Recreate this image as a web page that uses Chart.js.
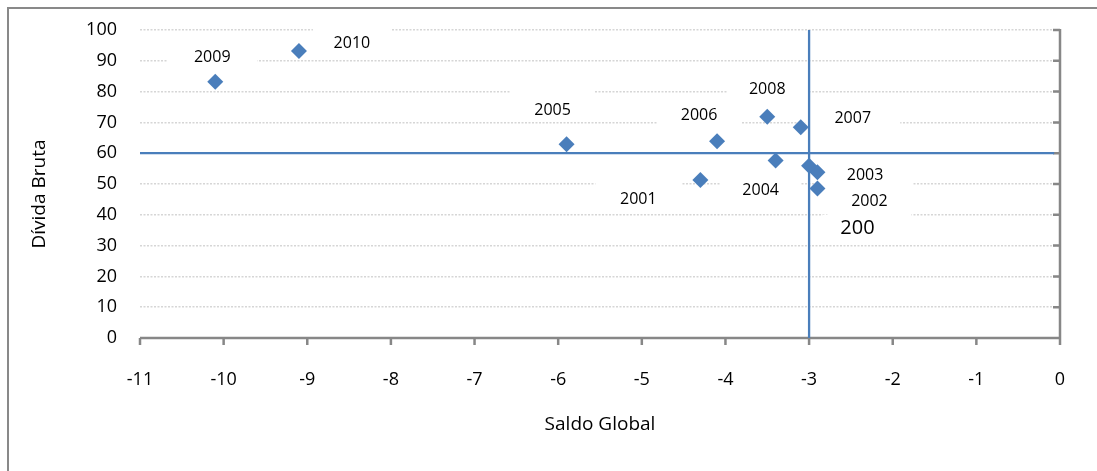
<!DOCTYPE html>
<html>
<head>
<meta charset="utf-8">
<script src="https://cdn.jsdelivr.net/npm/chart.js@4.4.1/dist/chart.umd.min.js"></script>
<style>
  html, body { margin: 0; padding: 0; background: #fff; overflow: hidden; }
  #wrap { position: relative; width: 1097px; height: 471px; }
  #frame { position: absolute; left: 7px; top: 7px; width: 1300px; height: 700px; border: 2px solid #898989; box-sizing: border-box; pointer-events: none; }
  canvas { position: absolute; left: 0; top: 0; }
</style>
</head>
<body>
<div id="wrap">
  <div id="frame"></div>
  <canvas id="c" width="1097" height="471"></canvas>
</div>
<script>
// ---- data ----
const years  = ['200', '2001', '2002', '2003', '2004', '2005', '2006', '2007', '2008', '2009', '2010'];
const saldo  = [-2.9, -4.3, -2.9, -3.0, -3.4, -5.9, -4.1, -3.1, -3.5, -10.1, -9.1];
const divida = [48.5, 51.3, 53.8, 55.9, 57.6, 62.9, 63.9, 68.4, 71.8, 83.2, 93.2];
const refSaldo = -3;
const refDivida = 60;
const xTickLabels = ['-11','-10','-9','-8','-7','-6','-5','-4','-3','-2','-1','0'];
const yTickLabels = ['0','10','20','30','40','50','60','70','80','90','100'];
const xTitle = 'Saldo Global';
const yTitle = 'Dívida Bruta';

// ---- style / layout (pixel offsets of the hand-placed labels) ----
const labelOffsets = [[40,40],[-62,19],[52,29],[56,10],[-15,30],[-14,-34],[-18,-26],[52,-9],[0,-27],[-3,-24],[53,-8]];
const boxShift     = [0, -6, 2, 0, -4, -8, 0, 0, 0, 0, 0];
const boxWidths    = [70, 86, 84, 96, 80, 84, 84, 95, 80, 90, 78];
const labelFonts   = [20, 16, 16, 16, 16, 16, 16, 16, 16, 16, 16];
const BLUE = '#4A7EBB';
const AXIS = '#878787';
const FONT = "'Open Sans', 'DejaVu Sans', sans-serif";

const points = saldo.map((x, i) => ({ x: x, y: divida[i] }));

const overlay = {
  id: 'overlay',
  beforeDatasetsDraw(chart) {
    const ctx = chart.ctx, xs = chart.scales.x, ys = chart.scales.y;
    ctx.save();
    // white label backgrounds
    ctx.fillStyle = '#ffffff';
    points.forEach((p, i) => {
      const cx = xs.getPixelForValue(p.x) + labelOffsets[i][0];
      const cy = ys.getPixelForValue(p.y) + labelOffsets[i][1] + boxShift[i];
      const w = boxWidths[i], h = 28;
      ctx.fillRect(cx - w / 2, cy - h / 2, w, h);
    });
    // axes
    ctx.strokeStyle = AXIS;
    ctx.lineWidth = 2.5;
    const x0 = xs.getPixelForValue(0);
    const yTop = ys.getPixelForValue(100), yBot = ys.getPixelForValue(0);
    const xL = xs.getPixelForValue(-11);
    ctx.beginPath();
    ctx.moveTo(xL, yBot); ctx.lineTo(x0, yBot);
    ctx.moveTo(x0, yTop - 1); ctx.lineTo(x0, yBot + 1);
    for (let v = 0; v <= 100; v += 10) {
      const y = ys.getPixelForValue(v);
      ctx.moveTo(x0, y); ctx.lineTo(x0 - 7, y);
    }
    for (let v = -11; v <= 0; v += 1) {
      const x = xs.getPixelForValue(v);
      ctx.moveTo(x, yBot); ctx.lineTo(x, yBot + 7);
    }
    ctx.stroke();
    // y axis title
    ctx.fillStyle = '#000';
    ctx.font = '19px ' + FONT;
    ctx.textAlign = 'center';
    ctx.textBaseline = 'middle';
    ctx.translate(40, (chart.chartArea.top + chart.chartArea.bottom) / 2 + 10);
    ctx.rotate(-Math.PI / 2);
    ctx.fillText(yTitle, 0, 0);
    ctx.restore();
  },
  afterDatasetsDraw(chart) {
    const ctx = chart.ctx, xs = chart.scales.x, ys = chart.scales.y;
    ctx.save();
    ctx.fillStyle = '#000';
    ctx.textAlign = 'center';
    ctx.textBaseline = 'middle';
    points.forEach((p, i) => {
      ctx.font = labelFonts[i] + 'px ' + FONT;
      const cx = xs.getPixelForValue(p.x) + labelOffsets[i][0];
      const cy = ys.getPixelForValue(p.y) + labelOffsets[i][1];
      ctx.fillText(years[i], cx, cy);
    });
    ctx.restore();
  }
};

new Chart(document.getElementById('c'), {
  type: 'scatter',
  data: {
    datasets: [
      {
        label: 'pontos',
        data: points,
        pointStyle: 'rectRot',
        pointRadius: 8,
        pointHoverRadius: 8,
        backgroundColor: BLUE,
        borderColor: BLUE,
        borderWidth: 0,
        order: 0
      },
      {
        type: 'line',
        label: 'h',
        data: [{ x: -11, y: refDivida }, { x: -0.07, y: refDivida }],
        borderColor: BLUE,
        borderWidth: 2.3,
        pointRadius: 0,
        fill: false,
        order: 1
      },
      {
        type: 'line',
        label: 'v',
        data: [{ x: refSaldo, y: 100 }, { x: refSaldo, y: 0 }],
        borderColor: BLUE,
        borderWidth: 2.3,
        pointRadius: 0,
        fill: false,
        order: 1
      }
    ]
  },
  options: {
    responsive: false,
    animation: false,
    devicePixelRatio: 1,
    layout: { padding: { top: 30, right: 37, bottom: 35, left: 29 } },
    plugins: { legend: { display: false }, tooltip: { enabled: false } },
    scales: {
      x: {
        type: 'linear', min: -11, max: 0,
        grid: { display: false },
        border: { display: false },
        ticks: {
          stepSize: 1, padding: 23, color: '#000',
          font: { family: FONT, size: 18 },
          callback: (v) => xTickLabels[Math.round(v) + 11]
        },
        title: { display: true, text: xTitle, color: '#000', font: { family: FONT, size: 19 }, padding: 0 },
        afterFit: (s) => { s.height = 98; }
      },
      y: {
        type: 'linear', min: 0, max: 100,
        grid: { color: '#d6d6d6', lineWidth: 1.5, drawTicks: false },
        border: { display: false, dash: [2, 1.5] },
        ticks: {
          stepSize: 10, padding: 23, color: '#000',
          font: { family: FONT, size: 18 },
          callback: (v) => yTickLabels[Math.round(v / 10)]
        },
        title: { display: false },
        afterFit: (s) => { s.width = 111; s.paddingTop = 0; s.paddingBottom = 0; }
      }
    }
  },
  plugins: [overlay]
});
</script>
</body>
</html>
